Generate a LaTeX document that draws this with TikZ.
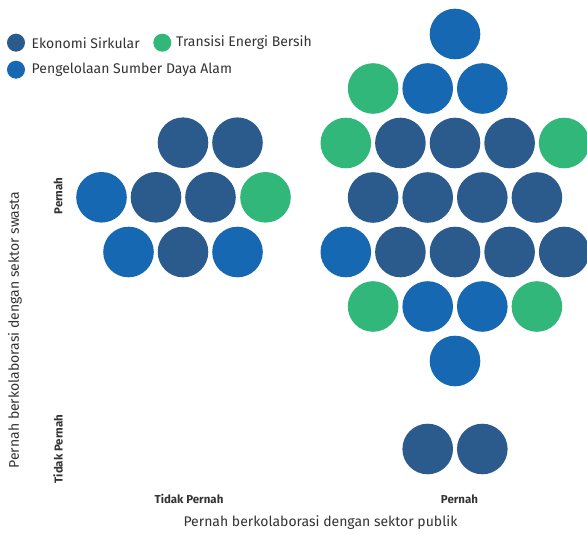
\documentclass[tikz,border=0pt]{standalone}
\usepackage{fontspec}
\setmainfont{Fira Sans}
\definecolor{cdark}{HTML}{2B5A8C}
\definecolor{cblue}{HTML}{1668B3}
\definecolor{cgreen}{HTML}{31B77A}
\definecolor{ctext}{HTML}{333333}
\begin{document}
\begin{tikzpicture}[x=1pt,y=-1pt,
  dot/.style={circle,inner sep=0pt,minimum size=50.6pt,draw=none},
  D/.style={dot,fill=cdark},
  B/.style={dot,fill=cblue},
  G/.style={dot,fill=cgreen},
  ldot/.style={circle,inner sep=0pt,minimum size=18pt,draw=none},
  legtext/.style={anchor=west,inner sep=0pt,text=ctext,font=\fontsize{14}{16}\selectfont\addfontfeature{LetterSpace=0}},
  ticklab/.style={inner sep=0pt,text=ctext,font=\fontsize{11.5}{13}\selectfont\bfseries},
  axtitle/.style={inner sep=0pt,text=ctext,font=\fontsize{14}{16}\selectfont}]
\useasboundingbox (0,0) rectangle (587,535);
% legend
\node[ldot,fill=cdark] (lg1) at (16,42.7) {};
\node[legtext] (lt1) at (31.5,42.7) {Ekonomi Sirkular};
\node[ldot,fill=cgreen] (lg2) at (162.3,42.7) {};
\node[legtext] (lt2) at (176,42.7) {Transisi Energi Bersih};
\node[ldot,fill=cblue] (lg3) at (16,69.7) {};
\node[legtext] (lt3) at (31.5,69.7) {Pengelolaan Sumber Daya Alam};
% left cluster
\foreach \n/\x/\y/\s in {a1/183/142.7/D, a2/237.5/142.7/D,
  a3/101.5/197.3/B, a4/156/197.3/D, a5/210.5/197.3/D, a6/265.5/197.3/G,
  a7/128.5/252/B, a8/183/252/D, a9/237.5/252/B}
  \node[\s] (\n) at (\x,\y) {};
% right cluster
\foreach \n/\x/\y/\s in {b1/455/34/B,
  b2/373.1/88.5/G, b3/427.7/88.5/B, b4/482.3/88.5/B,
  b5/345.8/143/G, b6/400.4/143/D, b7/455/143/D, b8/509.6/143/D, b9/564.2/143/G,
  b10/373.1/197.5/D, b11/427.7/197.5/D, b12/482.3/197.5/D, b13/536.9/197.5/D,
  b14/345.8/252/B, b15/400.4/252/D, b16/455/252/D, b17/509.6/252/D, b18/564.2/252/D,
  b19/373.1/306.5/G, b20/427.7/306.5/B, b21/482.3/306.5/B, b22/536.9/306.5/G,
  b23/455/361/B,
  c1/427.7/449/D, c2/482.3/449/D}
  \node[\s] (\n) at (\x,\y) {};
% axis labels
\node[ticklab] (xt1) at (189,499) {Tidak Pernah};
\node[ticklab] (xt2) at (459.5,499) {Pernah};
\node[ticklab,rotate=90] (yt1) at (58,196) {Pernah};
\node[ticklab,rotate=90] (yt2) at (58,449) {Tidak Pernah};
\node[axtitle] (xtitle) at (320.5,523) {Pernah berkolaborasi dengan sektor publik};
\node[axtitle,rotate=90] (ytitle) at (15,330) {Pernah berkolaborasi dengan sektor swasta};
\end{tikzpicture}
\end{document}
